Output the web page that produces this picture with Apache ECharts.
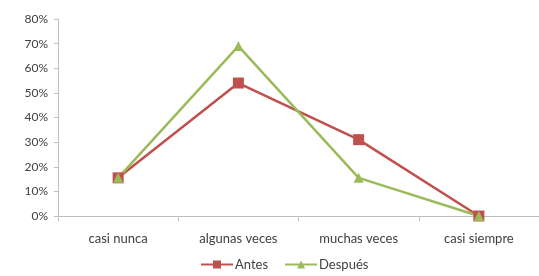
<!DOCTYPE html>
<html>
<head>
<meta charset="utf-8">
<script src="https://cdn.jsdelivr.net/npm/echarts@6/dist/echarts.min.js"></script>
<style>
  html, body { margin: 0; padding: 0; background: #fff; }
  #chart { width: 539px; height: 276px; }
</style>
</head>
<body>
<div id="chart"></div>
<script>
var categories = ["casi nunca", "algunas veces", "muchas veces", "casi siempre"];
var antes = [15.5, 54, 31, 0];
var despues = [15.5, 69, 15.5, 0];
var yTicks = [0, 10, 20, 30, 40, 50, 60, 70, 80];

var chart = echarts.init(document.getElementById("chart"));
var fontName = "Lato";
var option = {
  animation: false,
  grid: { left: 58, top: 19, width: 488, height: 197 },
  legend: {
    bottom: 0,
    left: 195,
    itemWidth: 32,
    itemHeight: 10,
    itemGap: 16,
    textStyle: { fontFamily: fontName, fontSize: 13, color: "#404040", padding: [0, 0, 0, -3] },
    data: ["Antes", "Después"]
  },
  xAxis: {
    type: "category",
    data: categories,
    boundaryGap: true,
    axisLine: { lineStyle: { color: "#bfbfbf", width: 1 } },
    axisTick: { show: true, alignWithLabel: false, length: 5, lineStyle: { color: "#bfbfbf" } },
    axisLabel: { fontFamily: fontName, fontSize: 13, color: "#404040", margin: 16 }
  },
  yAxis: {
    type: "value",
    min: 0,
    max: 80,
    interval: 10,
    axisLine: { show: true, lineStyle: { color: "#bfbfbf", width: 1 } },
    axisTick: { show: true, length: 4, lineStyle: { color: "#bfbfbf" } },
    splitLine: { show: false },
    axisLabel: {
      fontFamily: fontName,
      fontSize: 12,
      color: "#404040",
      margin: 10,
      formatter: function (v) { return yTicks.indexOf(v) >= 0 ? v + "%" : ""; }
    }
  },
  series: [
    {
      name: "Antes",
      type: "line",
      data: antes,
      symbol: "rect",
      symbolSize: 11,
      lineStyle: { color: "#c0504d", width: 2.5 },
      itemStyle: { color: "#c0504d" }
    },
    {
      name: "Después",
      type: "line",
      data: despues,
      symbol: "triangle",
      symbolSize: 10,
      lineStyle: { color: "#9bbb59", width: 2.5 },
      itemStyle: { color: "#9bbb59" }
    }
  ]
};
chart.setOption(option);
</script>
</body>
</html>
